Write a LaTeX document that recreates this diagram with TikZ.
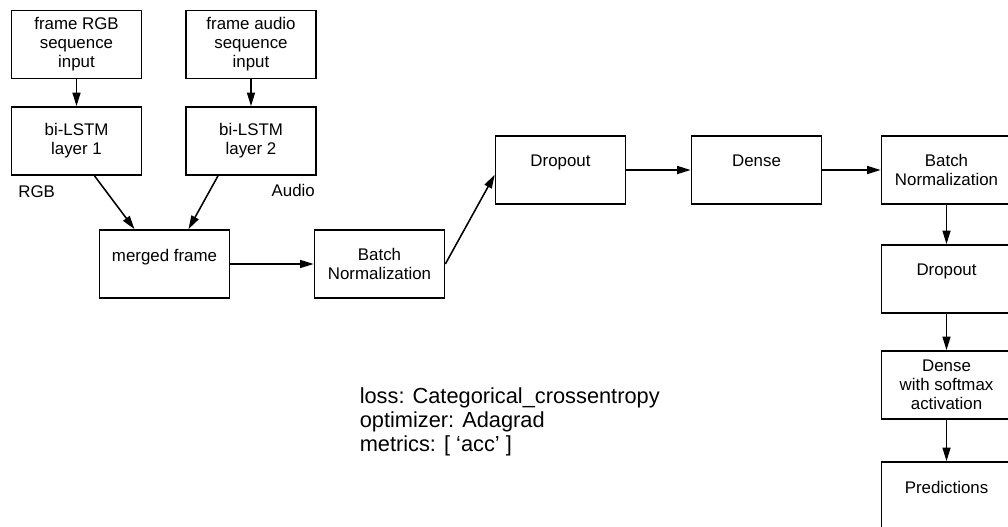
\documentclass[tikz,border=0pt]{standalone}
\usepackage{fontspec}
\setmainfont{Liberation Sans}
\usepackage{tikz}
\usetikzlibrary{arrows.meta}
\tikzstyle{layer} = [rectangle, minimum width = 3.25cm, minimum height = 1.7cm, text centered, align = center, draw = black, line width = 1.2pt, font = \fontsize{12}{13.5}\selectfont]
\tikzstyle{toptext} = [text depth = 0.45cm]
\tikzstyle{tag} = [inner sep = 0pt, font = \fontsize{12}{13.5}\selectfont]
\tikzstyle{info} = [align = left, inner sep = 0pt, anchor = west, font = \fontsize{15.5}{17}\selectfont]

\begin{document}
\begin{tikzpicture}[>={Triangle[length = 3.4mm, width = 2mm]}, line width = 1.1pt, node distance = 1cm]
	\clip (-1.9125,1.1125) rectangle (23.2875,-12.0625);
	\node (rgb)[layer]{frame RGB\\sequence\\input};
	\node (audio)[layer, right of = rgb, xshift = 3.3625cm]{frame audio\\sequence\\input};
	\node (lstm1)[layer, below of = rgb, yshift = -1.4125cm]{bi-LSTM\\layer 1};
	\node (lstm2)[layer, below of = audio, yshift = -1.4125cm]{bi-LSTM\\layer 2};
	\node (rgbtag)[tag, anchor = north west] at ([xshift = 0.175cm, yshift = -0.225cm]lstm1.south west){RGB};
	\node (audiotag)[tag, anchor = north east] at ([xshift = -0.03cm, yshift = -0.2cm]lstm2.south east){Audio};
	\node (merged)[layer, toptext, below of = lstm1, xshift = 2.2cm, yshift = -2.075cm]{merged frame};
	\node (bn1)[layer, right of = merged, xshift = 4.375cm]{Batch\\Normalization};
	\node (drop1)[layer, toptext, right of = bn1, xshift = 3.525cm, yshift = 2.35cm]{Dropout};
	\node (dense1)[layer, toptext, right of = drop1, xshift = 3.9cm]{Dense};
	\node (bn2)[layer, right of = dense1, xshift = 3.75cm]{Batch\\Normalization};
	\node (drop2)[layer, toptext, below of = bn2, yshift = -1.725cm]{Dropout};
	\node (dense2)[layer, below of = drop2, yshift = -1.65cm]{Dense\\with softmax\\activation};
	\node (pred)[layer, toptext, below of = dense2, yshift = -1.775cm]{Predictions};
	\node (loss)[info] at (7.0625, -9.4375){loss: Categorical\_crossentropy\\optimizer: Adagrad\\metrics: [ `acc' ]};

	\draw [->] (rgb) -- (lstm1);
	\draw [->] (audio) -- (lstm2);
	\draw [->] ([xshift = 0.45cm]lstm1.south) -- ([xshift = -0.75cm]merged.north);
	\draw [->] ([xshift = -0.825cm]lstm2.south) -- ([xshift = 0.6cm]merged.north);
	\draw [->] (merged) -- (bn1);
	\draw [->] (bn1.east) -- ([yshift = -0.12cm]drop1.west);
	\draw [->] (drop1) -- (dense1);
	\draw [->] (dense1) -- (bn2);
	\draw [->] (bn2) -- (drop2);
	\draw [->] (drop2) -- (dense2);
	\draw [->] (dense2) -- (pred);
\end{tikzpicture}
\end{document}
